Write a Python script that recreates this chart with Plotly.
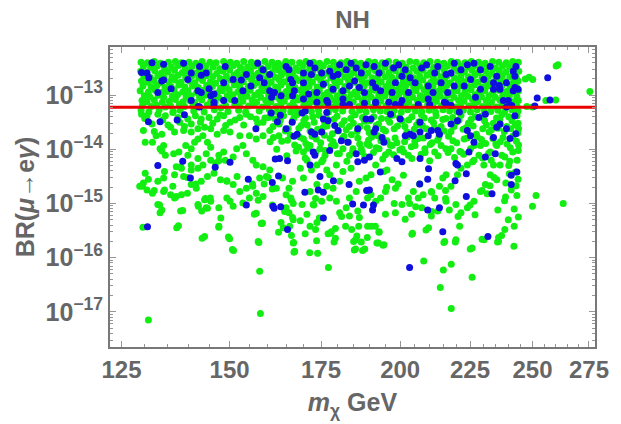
import math
import plotly.graph_objects as go

# Scan points: (m_chi in GeV, log10 BR(mu -> e gamma))
# green: all accepted points, blue: subset satisfying the extra constraint

green_band = [
    (129.2,-12.39),(130.6,-12.40),(132.1,-12.38),(133.5,-12.41),(135.3,-12.39),(136.9,-12.38),(138.3,-12.40),(140.1,-12.39),(141.7,-12.41),(143.2,-12.38),(145.1,-12.39),(146.6,-12.40),(148.5,-12.38),(150.2,-12.39),(151.8,-12.41),(153.6,-12.38),(155.6,-12.39),(157.2,-12.40),(159.2,-12.38),(161.1,-12.39),(162.8,-12.41),(164.9,-12.38),(166.6,-12.39),(168.8,-12.40),(170.6,-12.38),(172.8,-12.39),(174.6,-12.41),(176.8,-12.38),(178.7,-12.39),(181.0,-12.40),(182.9,-12.38),(185.2,-12.39),(187.2,-12.41),(189.6,-12.38),(191.6,-12.39),(194.0,-12.40),(196.1,-12.38),(198.6,-12.39),(200.7,-12.41),(203.3,-12.38),(205.5,-12.39),(208.1,-12.40),(210.3,-12.38),(213.0,-12.39),(215.3,-12.41),(218.0,-12.38),(220.3,-12.39),(223.1,-12.40),(225.5,-12.38),(228.3,-12.39),(230.8,-12.41),(233.7,-12.38),(236.2,-12.39),(239.2,-12.40),(241.8,-12.38),(244.1,-12.39),
    (129.7,-12.47),(131.3,-12.49),(132.8,-12.46),(134.4,-12.50),(136.0,-12.48),(137.6,-12.45),(139.2,-12.49),(140.8,-12.47),(142.5,-12.50),(144.1,-12.46),(145.9,-12.48),(147.5,-12.51),(149.3,-12.47),(151.0,-12.45),(152.8,-12.49),(154.6,-12.48),(156.4,-12.46),(158.2,-12.50),(160.1,-12.47),(161.9,-12.49),(163.8,-12.45),(165.7,-12.48),(167.7,-12.50),(169.7,-12.46),(171.7,-12.48),(173.7,-12.49),(175.7,-12.46),(177.8,-12.50),(179.8,-12.47),(182.0,-12.48),(184.0,-12.45),(186.2,-12.49),(188.4,-12.47),(190.6,-12.50),(192.8,-12.46),(195.0,-12.48),(197.3,-12.49),(199.6,-12.46),(202.0,-12.48),(204.4,-12.50),(206.8,-12.47),(209.2,-12.45),(211.6,-12.49),(214.1,-12.48),(216.6,-12.46),(219.1,-12.50),(221.7,-12.47),(224.3,-12.48),(226.9,-12.45),(229.5,-12.49),(232.2,-12.47),(234.9,-12.50),(237.7,-12.46),(240.5,-12.48),(243.3,-12.49),
    (129.1,-12.56),(130.4,-12.58),(132.2,-12.55),(133.7,-12.59),(135.1,-12.57),(136.7,-12.54),(138.5,-12.58),(139.9,-12.56),(141.8,-12.59),(143.4,-12.55),(144.9,-12.57),(146.8,-12.60),(148.3,-12.56),(150.0,-12.54),(152.0,-12.58),(153.8,-12.57),(155.4,-12.55),(157.4,-12.59),(159.0,-12.56),(161.2,-12.58),(163.0,-12.54),(164.7,-12.57),(166.8,-12.59),(168.6,-12.55),(170.8,-12.57),(172.6,-12.58),(174.8,-12.55),(176.6,-12.59),(178.9,-12.56),(180.8,-12.57),(183.1,-12.54),(185.0,-12.58),(187.4,-12.56),(189.4,-12.59),(191.8,-12.55),(193.8,-12.57),(196.3,-12.58),(198.4,-12.55),(200.9,-12.57),(203.1,-12.59),(205.7,-12.56),(207.9,-12.54),(210.5,-12.58),(212.8,-12.57),(215.5,-12.55),(217.8,-12.59),(220.5,-12.56),(222.9,-12.57),(225.7,-12.54),(228.1,-12.58),(231.0,-12.56),(233.5,-12.59),(236.4,-12.55),(239.0,-12.57),(242.0,-12.58),(244.3,-12.56),
    (129.8,-12.65),(131.2,-12.67),(132.9,-12.64),(134.3,-12.68),(136.1,-12.66),(137.5,-12.63),(139.3,-12.67),(140.7,-12.65),(142.4,-12.68),(144.2,-12.64),(145.8,-12.66),(147.6,-12.69),(149.2,-12.65),(151.1,-12.63),(152.7,-12.67),(154.7,-12.66),(156.3,-12.64),(158.3,-12.68),(160.0,-12.65),(162.0,-12.67),(163.7,-12.63),(165.8,-12.66),(167.6,-12.68),(169.8,-12.64),(171.6,-12.66),(173.8,-12.67),(175.6,-12.64),(177.9,-12.68),(179.7,-12.65),(182.1,-12.66),(183.9,-12.63),(186.3,-12.67),(188.3,-12.65),(190.7,-12.68),(192.7,-12.64),(195.1,-12.66),(197.2,-12.67),(199.7,-12.64),(201.9,-12.66),(204.5,-12.68),(206.7,-12.65),(209.3,-12.63),(211.5,-12.67),(214.2,-12.66),(216.5,-12.64),(219.2,-12.68),(221.6,-12.65),(224.4,-12.66),(226.8,-12.63),(229.6,-12.67),(232.1,-12.65),(235.0,-12.68),(237.6,-12.64),(240.6,-12.66),(243.2,-12.67),
    (129.3,-12.74),(130.7,-12.76),(132.0,-12.73),(133.5,-12.77),(135.4,-12.75),(136.8,-12.72),(138.2,-12.76),(140.2,-12.74),(141.5,-12.77),(143.3,-12.73),(145.2,-12.75),(146.5,-12.78),(148.6,-12.74),(150.1,-12.72),(151.9,-12.76),(153.5,-12.75),(155.7,-12.73),(157.1,-12.77),(159.3,-12.74),(160.9,-12.76),(163.1,-12.72),(164.6,-12.75),(166.9,-12.77),(168.5,-12.73),(170.9,-12.75),(172.5,-12.76),(174.9,-12.73),(176.5,-12.77),(179.0,-12.74),(180.7,-12.75),(183.2,-12.72),(184.9,-12.76),(187.5,-12.74),(189.3,-12.77),(191.9,-12.73),(193.7,-12.75),(196.4,-12.76),(198.3,-12.73),(201.0,-12.75),(203.0,-12.77),(205.8,-12.74),(207.8,-12.72),(210.6,-12.76),(212.7,-12.75),(215.6,-12.73),(217.7,-12.77),(220.6,-12.74),(222.8,-12.75),(225.8,-12.72),(228.0,-12.76),(231.1,-12.74),(233.4,-12.77),(236.5,-12.73),(238.9,-12.75),(242.1,-12.76),(244.0,-12.74),
    (129.6,-12.83),(131.4,-12.85),(132.7,-12.82),(134.5,-12.86),(135.9,-12.84),(137.7,-12.81),(139.1,-12.85),(140.9,-12.83),(142.3,-12.86),(144.3,-12.82),(145.7,-12.84),(147.7,-12.87),(149.1,-12.83),(151.2,-12.81),(152.6,-12.85),(154.8,-12.84),(156.2,-12.82),(158.4,-12.86),(159.9,-12.83),(162.1,-12.85),(163.6,-12.81),(165.9,-12.84),(167.5,-12.86),(169.9,-12.82),(171.5,-12.84),(173.9,-12.85),(175.5,-12.82),(178.0,-12.86),(179.6,-12.83),(182.2,-12.84),(183.8,-12.81),(186.4,-12.85),(188.2,-12.83),(190.8,-12.86),(192.6,-12.82),(195.2,-12.84),(197.1,-12.85),(199.8,-12.82),(201.8,-12.84),(204.6,-12.86),(206.6,-12.83),(209.4,-12.81),(211.4,-12.85),(214.3,-12.84),(216.4,-12.82),(219.3,-12.86),(221.5,-12.83),(224.5,-12.84),(226.7,-12.81),(229.7,-12.85),(232.0,-12.83),(235.1,-12.86),(237.5,-12.82),(240.7,-12.84),(243.4,-12.85),
    (129.0,-12.92),(130.8,-12.94),(132.3,-12.91),(133.8,-12.95),(135.0,-12.93),(136.6,-12.90),(138.6,-12.94),(139.8,-12.92),(141.9,-12.95),(143.5,-12.91),(144.8,-12.93),(146.9,-12.96),(148.2,-12.92),(149.9,-12.90),(152.1,-12.94),(153.9,-12.93),(155.3,-12.91),(157.5,-12.95),(158.9,-12.92),(161.3,-12.94),(162.7,-12.90),(165.0,-12.93),(166.5,-12.95),(168.9,-12.91),(170.5,-12.93),(172.9,-12.94),(174.5,-12.91),(176.9,-12.95),(178.6,-12.92),(181.1,-12.93),(182.8,-12.90),(185.3,-12.94),(187.1,-12.92),(189.7,-12.95),(191.5,-12.91),(194.1,-12.93),(196.0,-12.94),(198.7,-12.91),(200.6,-12.93),(203.4,-12.95),(205.4,-12.92),(208.2,-12.90),(210.2,-12.94),(213.1,-12.93),(215.2,-12.91),(218.1,-12.95),(220.2,-12.92),(223.2,-12.93),(225.4,-12.90),(228.4,-12.94),(230.7,-12.92),(233.8,-12.95),(236.1,-12.91),(239.3,-12.93),(241.7,-12.94),(244.2,-12.92),
    (129.9,-13.01),(131.1,-13.03),(133.0,-13.00),(134.2,-13.04),(136.2,-13.02),(137.4,-12.99),(139.4,-13.03),(140.6,-13.01),(142.6,-13.04),(144.0,-13.00),(146.0,-13.02),(147.4,-13.05),(149.4,-13.01),(150.9,-12.99),(152.9,-13.03),(154.5,-13.02),(156.5,-13.00),(158.1,-13.04),(160.2,-13.01),(161.8,-13.03),(163.9,-12.99),(165.6,-13.02),(167.8,-13.04),(169.6,-13.00),(171.8,-13.02),(173.6,-13.03),(175.8,-13.00),(177.7,-13.04),(179.9,-13.01),(181.9,-13.02),(184.1,-12.99),(186.1,-13.03),(188.5,-13.01),(190.5,-13.04),(192.9,-13.00),(194.9,-13.02),(197.4,-13.03),(199.5,-13.00),(202.1,-13.02),(204.3,-13.04),(206.9,-13.01),(209.1,-12.99),(211.7,-13.03),(214.0,-13.02),(216.7,-13.00),(219.0,-13.04),(221.8,-13.01),(224.2,-13.02),(227.0,-12.99),(229.4,-13.03),(232.3,-13.01),(234.8,-13.04),(237.8,-13.00),(240.4,-13.02),(243.5,-13.03),
    (129.4,-13.10),(130.5,-13.12),(132.1,-13.09),(133.9,-13.13),(135.5,-13.11),(136.9,-13.08),(138.7,-13.12),(140.3,-13.10),(141.4,-13.13),(143.1,-13.09),(145.3,-13.11),(146.4,-13.14),(148.7,-13.10),(150.3,-13.08),(151.7,-13.12),(153.4,-13.11),(155.8,-13.09),(157.0,-13.13),(159.4,-13.10),(160.8,-13.12),(163.2,-13.08),(164.5,-13.11),(167.0,-13.13),(168.4,-13.09),(171.0,-13.11),(172.4,-13.12),(175.0,-13.09),(176.4,-13.13),(179.1,-13.10),(180.6,-13.11),(183.3,-13.08),(184.8,-13.12),(187.6,-13.10),(189.2,-13.13),(192.0,-13.09),(193.6,-13.11),(196.5,-13.12),(198.2,-13.09),(201.1,-13.11),(202.9,-13.13),(205.9,-13.10),(207.7,-13.08),(210.7,-13.12),(212.6,-13.11),(215.7,-13.09),(217.6,-13.13),(220.7,-13.10),(222.7,-13.11),(225.9,-13.08),(227.9,-13.12),(231.2,-13.10),(233.3,-13.13),(236.6,-13.09),(238.8,-13.11),(242.2,-13.12),(244.1,-13.10),
    (129.5,-13.19),(131.5,-13.21),(132.6,-13.18),(134.6,-13.22),(135.8,-13.20),(137.8,-13.17),(139.0,-13.21),(141.0,-13.19),(142.2,-13.22),(144.4,-13.18),(145.6,-13.20),(147.8,-13.23),(149.0,-13.19),(151.3,-13.17),(152.5,-13.21),(154.9,-13.20),(156.1,-13.18),(158.5,-13.22),(159.8,-13.19),(162.2,-13.21),(163.5,-13.17),(166.0,-13.20),(167.4,-13.22),(170.0,-13.18),(171.4,-13.20),(174.0,-13.21),(175.4,-13.18),(178.1,-13.22),(179.5,-13.19),(182.3,-13.20),(183.7,-13.17),(186.5,-13.21),(188.1,-13.19),(190.9,-13.22),(192.5,-13.18),(195.3,-13.20),(197.0,-13.21),(199.9,-13.18),(201.7,-13.20),(204.7,-13.22),(206.5,-13.19),(209.5,-13.17),(211.3,-13.21),(214.4,-13.20),(216.3,-13.18),(219.4,-13.22),(221.4,-13.19),(224.6,-13.20),(226.6,-13.17),(229.8,-13.21),(231.9,-13.19),(235.2,-13.22),(237.4,-13.18),(240.8,-13.20),(243.6,-13.21),
    (129.2,-13.28),(130.9,-13.31),(133.2,-13.27),(136.4,-13.30),(138.0,-13.28),(141.2,-13.29),(143.7,-13.31),(146.2,-13.27),(149.6,-13.30),(152.3,-13.28),(154.1,-13.31),(157.7,-13.29),(160.4,-13.27),(162.4,-13.30),(164.2,-13.28),(166.3,-13.31),(168.1,-13.27),(170.3,-13.29),(172.2,-13.30),(174.3,-13.28),(177.2,-13.31),(179.3,-13.27),(181.5,-13.29),(184.4,-13.30),(186.8,-13.28),(188.8,-13.31),(191.2,-13.27),(193.4,-13.29),(195.6,-13.30),(198.0,-13.28),(200.4,-13.31),(202.6,-13.27),(205.2,-13.29),(207.4,-13.30),(210.0,-13.28),(212.3,-13.31),(215.0,-13.27),(217.4,-13.29),(220.0,-13.30),(222.5,-13.28),(225.2,-13.31),(227.7,-13.27),(230.5,-13.29),(233.0,-13.30),(235.8,-13.28),(238.5,-13.31),(241.4,-13.27),(244.0,-13.29),
]

green_mid = [
    (129.3,-13.35),(130.5,-13.38),(132.9,-13.35),(134.6,-13.38),(136.3,-13.32),(137.5,-13.41),(139.8,-13.44),(140.6,-13.53),(143.0,-13.44),(144.9,-13.41),(146.9,-13.44),(148.5,-13.38),(150.1,-13.50),(152.6,-13.41),(154.3,-13.35),(156.9,-13.44),(158.7,-13.50),(160.5,-13.65),(158.7,-13.75),(156.9,-13.81),(155.1,-13.75),(152.6,-13.75),(150.1,-13.68),(148.5,-13.65),(146.9,-13.72),(145.3,-13.62),(143.8,-13.59),(142.2,-13.62),(140.6,-13.68),(138.8,-13.65),(136.7,-13.68),(135.8,-13.59),(133.8,-13.72),(132.5,-13.75),
    (130.0,-13.43),(131.6,-13.53),(134.0,-13.46),(135.2,-13.55),(137.9,-13.50),(139.0,-13.58),(141.6,-13.38),(142.8,-13.50),(145.8,-13.52),(147.6,-13.36),(149.0,-13.56),(151.4,-13.46),(153.6,-13.55),(155.4,-13.40),(157.3,-13.52),(159.2,-13.42),
    (160.8,-13.35),(162.0,-13.44),(163.1,-13.53),(164.3,-13.38),(165.6,-13.62),(166.8,-13.47),(168.0,-13.36),(169.3,-13.56),(170.5,-13.42),(171.8,-13.66),(173.0,-13.50),(174.4,-13.37),(175.7,-13.59),(177.0,-13.45),(178.4,-13.71),(179.8,-13.39),(181.2,-13.54),(182.6,-13.64),(184.0,-13.43),(185.4,-13.36),(186.9,-13.58),(188.3,-13.48),(189.8,-13.69),(191.3,-13.40),(192.8,-13.53),(194.3,-13.63),(195.9,-13.44),(197.5,-13.37),(199.1,-13.57),(200.7,-13.47),(202.3,-13.68),(204.0,-13.40),(205.6,-13.55),(207.3,-13.36),(209.0,-13.62),(210.8,-13.46),(212.5,-13.38),(214.3,-13.58),(216.1,-13.43),(217.9,-13.67),(219.8,-13.50),(221.6,-13.37),(223.5,-13.60),(225.4,-13.45),(227.4,-13.72),(229.3,-13.39),(231.3,-13.55),(233.3,-13.64),(235.3,-13.42),(237.4,-13.36),(239.4,-13.58),(241.5,-13.47),(243.6,-13.38),(244.2,-13.62),(244.0,-13.52),
    (160.2,-13.41),(163.4,-13.46),(167.2,-13.42),(170.0,-13.47),(172.6,-13.40),(176.0,-13.48),(178.9,-13.44),(182.0,-13.47),(184.8,-13.52),(187.7,-13.41),(190.0,-13.47),(193.8,-13.43),(196.5,-13.50),(199.8,-13.41),(202.9,-13.46),(206.4,-13.49),(208.3,-13.42),(211.6,-13.51),(214.9,-13.45),(218.5,-13.41),(220.9,-13.46),(224.4,-13.52),(227.0,-13.40),(230.6,-13.47),(234.0,-13.52),(236.6,-13.45),(240.2,-13.40),(242.8,-13.55),
    (161.4,-13.58),(164.8,-13.66),(168.6,-13.61),(171.0,-13.55),(174.0,-13.63),(176.8,-13.57),(180.2,-13.66),(183.6,-13.58),(186.0,-13.67),(189.2,-13.60),(192.1,-13.56),(195.1,-13.66),(198.0,-13.62),(201.6,-13.58),(204.8,-13.63),(207.6,-13.56),(211.9,-13.60),(215.4,-13.66),(219.0,-13.58),(222.4,-13.63),(226.2,-13.57),(229.9,-13.62),(232.4,-13.68),(236.0,-13.61),(238.4,-13.67),(241.0,-13.62),(243.9,-13.70),
    (161.5,-13.78),(163.8,-13.85),(166.2,-13.74),(167.4,-13.92),(169.9,-13.81),(171.1,-13.98),(172.4,-13.76),(174.9,-13.88),(176.3,-14.02),(177.7,-13.80),(179.2,-13.93),(180.5,-14.08),(181.9,-13.76),(183.3,-13.87),(184.7,-13.99),(186.2,-13.79),(187.6,-14.05),(189.1,-13.90),(190.6,-13.77),(192.1,-13.97),(193.6,-13.84),(195.1,-14.10),(196.7,-13.92),(198.3,-13.79),(199.9,-14.01),(201.5,-13.86),(203.8,-13.95),(206.2,-13.80),(208.6,-14.06),(211.0,-13.88),(213.5,-13.77),(216.0,-13.99),(218.6,-13.84),(221.2,-14.04),(223.9,-13.79),(226.6,-13.93),(229.4,-13.82),(232.2,-14.07),(235.0,-13.90),(237.9,-13.78),(240.8,-13.97),(243.3,-13.85),(244.1,-14.02),
    (160.6,-13.86),(163.0,-13.75),(165.4,-13.83),(168.8,-13.77),(170.6,-13.89),(173.6,-13.81),(176.0,-13.74),(178.6,-13.86),(181.4,-13.80),(184.2,-13.73),(186.8,-13.90),(189.6,-13.83),(192.6,-13.75),(195.6,-13.84),(198.9,-13.88),(202.4,-13.77),(205.0,-13.85),(208.0,-13.79),(210.4,-13.91),(213.0,-13.83),(217.0,-13.76),(220.0,-13.88),(222.8,-13.81),(227.8,-13.77),(231.0,-13.89),(233.8,-13.80),(236.8,-13.86),(241.8,-13.76),(244.2,-13.92),
    (162.4,-14.00),(165.2,-14.12),(167.8,-14.03),(170.4,-14.16),(173.4,-14.06),(175.6,-14.19),(179.9,-14.08),(182.8,-14.22),(184.6,-14.04),(188.4,-14.13),(191.2,-14.06),(194.2,-14.18),(197.8,-14.10),(201.2,-14.05),(204.0,-14.17),(207.2,-14.09),(210.2,-14.21),(213.2,-14.12),(216.8,-14.06),(219.2,-14.15),(222.6,-14.09),(226.0,-14.23),(229.8,-14.16),(233.2,-14.20),(238.6,-14.14),(240.6,-14.22),
    (168.5,-13.96),(169.9,-14.05),(171.8,-13.93),(174.7,-13.99),(176.2,-14.11),(178.1,-13.93),(181.6,-13.99),(183.6,-14.11),(187.3,-13.99),(189.9,-13.93),(193.0,-13.99),(196.2,-14.05),(197.3,-13.93),(200.6,-13.99),(202.8,-14.11),(205.1,-13.93),(208.5,-13.99),(212.0,-14.05),(214.3,-13.93),(217.9,-13.99),(221.6,-14.05),(225.2,-13.99),(229.0,-13.93),(232.8,-14.05),(235.4,-13.93),(237.4,-14.11),
    (239.5,-13.90),(241.8,-14.05),(243.6,-14.20),(240.2,-14.30),(242.9,-14.42),(244.0,-14.55),(239.0,-14.62),(241.2,-14.75),(243.5,-14.85),(238.5,-14.95),(242.4,-15.10),(244.1,-15.25),(240.0,-15.30),
]

green_low = [
    (129.7,-13.65),(132.1,-13.67),(130.1,-13.87),(131.7,-13.87),(134.2,-13.93),(133.4,-13.99),(136.5,-14.08),(137.7,-14.05),(139.3,-13.93),(140.6,-13.99),(139.8,-14.11),(141.4,-13.87),(142.2,-13.81),(143.4,-13.75),(144.5,-13.87),(145.3,-13.96),(144.2,-14.08),(142.2,-14.17),(140.6,-14.29),(138.3,-14.35),(137.1,-14.32),(136.7,-14.47),(138.8,-14.50),(140.6,-14.38),(142.2,-14.35),(143.4,-14.29),(145.3,-14.20),(147.3,-14.11),(148.5,-14.05),(148.9,-14.20),(150.9,-14.14),(151.8,-13.99),(153.4,-13.93),(154.3,-14.08),(156.0,-14.20),(156.9,-14.29),(158.7,-14.32),(160.5,-14.38),(159.6,-14.50),(157.8,-14.53),(156.0,-14.68),(154.3,-14.72),(152.6,-14.78),(150.9,-14.65),(149.3,-14.59),(147.7,-14.56),(146.1,-14.44),(144.5,-14.50),(143.0,-14.59),(141.8,-14.72),(140.6,-14.65),(139.7,-14.81),(138.3,-14.84),(136.7,-14.90),(135.8,-14.84),(134.2,-14.53),(132.9,-14.59),(130.1,-14.44),(129.7,-14.62),(128.9,-14.68),(130.5,-14.75),(131.7,-14.81),(134.2,-14.78),(136.3,-14.68),(132.9,-15.02),(133.4,-15.17),(138.1,-15.14),(142.2,-15.02),(143.8,-14.93),(145.3,-14.96),(144.2,-15.08),(147.3,-15.08),(149.3,-14.90),(150.1,-14.96),(150.9,-15.05),(153.4,-14.99),(155.1,-14.90),(156.9,-14.81),(158.7,-14.87),(162.3,-14.72),(165.0,-14.84),(165.8,-14.72),(166.8,-14.59),(164.0,-14.53),(166.3,-14.90),(165.0,-15.08),(165.8,-15.17),(158.2,-15.37),(156.4,-15.20),(163.6,-15.35),(166.8,-15.26),
    (169.0,-14.35),(169.9,-14.53),(170.9,-14.20),(172.2,-14.38),(173.8,-14.29),(175.2,-14.23),(176.7,-14.38),(177.6,-14.47),(179.6,-14.29),(181.6,-14.41),(184.1,-14.35),(180.6,-14.59),(178.6,-14.72),(176.7,-14.68),(173.8,-14.65),(171.8,-14.78),(169.5,-15.02),(172.7,-15.02),(175.2,-14.96),(177.6,-14.90),(179.6,-14.96),(180.6,-15.17),(182.6,-15.08),(183.6,-14.90),(185.7,-14.78),(186.7,-14.59),(188.8,-14.53),(190.4,-14.47),(191.9,-14.29),(194.6,-14.41),(195.6,-14.38),(197.3,-14.56),(198.4,-14.72),(195.1,-14.78),(193.5,-14.90),(191.9,-14.96),(190.4,-14.84),(189.3,-14.90),(186.2,-15.14),(183.6,-15.23),(186.7,-15.26),(195.1,-15.20),(198.4,-15.17),(200.6,-15.02),(202.8,-14.90),(204.5,-14.78),(206.2,-14.90),(207.9,-14.84),(210.8,-14.78),(212.0,-14.90),(213.7,-14.68),(214.9,-14.53),(216.1,-14.47),(217.9,-14.68),(220.3,-14.47),(221.6,-14.35),(224.0,-14.29),(226.5,-14.20),(228.4,-14.11),(230.3,-14.29),(232.8,-14.47),(235.4,-14.56),(236.7,-14.29),(234.1,-14.29),(230.9,-14.65),(229.0,-14.78),(226.5,-14.96),(224.0,-15.08),(221.6,-15.17),(219.7,-15.02),(216.1,-14.96),(213.1,-15.14),(210.8,-15.23),(207.4,-15.08),(203.9,-15.20),(201.7,-15.29),(170.9,-15.20),(169.0,-15.32),(173.8,-15.35),
]

green_tail = [
    (129.5,-14.68),(132.1,-14.76),(130.8,-14.55),(129.6,-15.44),(130.8,-17.15),(133.3,-15.03),(133.8,-15.12),(134.4,-14.75),(134.4,-14.41),(133.8,-14.03),(134.6,-14.11),(137.6,-15.41),(138.6,-15.13),(137.1,-14.87),(138.1,-14.32),(139.7,-14.52),(141.7,-14.64),(142.3,-15.05),(143.1,-15.14),(143.8,-15.61),(144.0,-14.91),(144.5,-15.09),(145.2,-14.90),(146.5,-14.25),(147.3,-14.21),(147.8,-15.27),(147.3,-15.42),(149.3,-14.58),(149.7,-15.62),(150.7,-15.85),(151.9,-14.50),(155.9,-14.64),(156.9,-15.18),(157.4,-15.70),(157.8,-16.25),(158.0,-17.03),(157.4,-14.94),(158.5,-15.36),(159.0,-14.64),(160.1,-14.52),(161.2,-15.03),(161.2,-14.73),(164.6,-15.15),(164.2,-15.45),(166.0,-15.42),(167.0,-15.73),(167.4,-15.88),(167.0,-15.30),(166.5,-14.94),(167.0,-15.00),(171.7,-15.91),(171.8,-15.42),(172.9,-15.03),(173.4,-14.91),(174.5,-15.27),(177.2,-16.18),(178.1,-15.52),(177.8,-15.55),(179.3,-15.64),(181.2,-15.24),(182.4,-15.42),(185.5,-15.67),(185.5,-15.84),(186.5,-15.42),(188.4,-15.84),(189.3,-15.42),(190.5,-15.42),(191.8,-15.42),(193.0,-15.52),(192.8,-15.73),(194.6,-15.76),(195.5,-14.70),(198.0,-15.00),(199.3,-14.64),(201.1,-14.48),(203.2,-15.00),(204.2,-15.55),(205.3,-15.06),(206.7,-14.64),(208.1,-16.06),(209.8,-15.45),(210.9,-15.15),(210.9,-14.79),(214.0,-16.55),(215.1,-16.23),(215.6,-15.70),(215.9,-14.91),(215.9,-14.76),(218.0,-16.94),(218.0,-16.12),(217.3,-15.12),(219.7,-15.67),(220.5,-15.24),(221.1,-15.42),(225.0,-15.03),(225.8,-16.36),(225.8,-15.82),(226.9,-15.21),(229.6,-14.76),(230.4,-15.67),(231.6,-14.82),(232.7,-14.67),(234.3,-14.52),(235.8,-15.12),(236.1,-15.70),(237.3,-15.59),(238.6,-15.48),(238.9,-14.88),(240.4,-14.45),(242.3,-15.79),(242.4,-15.42),(243.2,-14.67),
    (137.2,-15.45),(143.2,-15.64),(147.3,-15.44),(150.0,-15.65),(151.0,-15.87),(157.6,-15.72),(158.5,-15.37),(162.9,-15.53),(166.5,-15.59),(167.1,-15.72),(167.2,-15.90),(170.4,-15.56),(173.4,-15.48),(173.7,-15.69),(174.0,-15.92),(177.1,-15.56),(179.3,-15.46),(178.9,-15.71),(184.3,-15.48),(185.9,-15.60),(184.9,-15.70),(185.1,-15.86),(187.3,-15.71),(187.7,-15.87),(189.2,-15.63),(192.3,-15.73),(193.0,-15.53),(194.3,-15.77),(204.0,-15.57),(208.9,-15.49),(215.3,-15.72),(219.5,-15.71),(225.1,-15.84),(229.6,-15.66),(235.7,-15.71),(236.1,-15.63),
    (250.0,-15.05),(251.5,-14.85),(263.3,-15.00),
]

green_out = [
    (247.0,-12.70),(248.6,-12.67),(250.1,-12.71),(261.0,-12.44),(260.2,-12.46),(260.0,-13.09),(255.7,-13.10),(247.6,-13.21),(250.0,-13.22),(275.4,-12.93),
]

blue_band = [
    (131.6,-12.40),(129.3,-12.58),(130.5,-12.59),(134.2,-12.43),(130.9,-12.68),(133.8,-12.74),(134.2,-12.72),(132.9,-12.95),(135.9,-12.88),(138.8,-12.41),(140.6,-12.59),(139.8,-12.71),(142.6,-12.47),(143.0,-12.63),(144.2,-12.59),(144.9,-12.88),(142.2,-12.92),(143.0,-12.95),(145.3,-13.01),(146.1,-12.98),(148.9,-12.47),(148.5,-12.77),(150.9,-12.71),(153.0,-12.72),(154.3,-12.62),(155.5,-12.83),(157.3,-12.41),(158.7,-12.53),(157.8,-12.68),(159.0,-12.77),(160.5,-12.62),(160.5,-12.92),(161.8,-12.95),(161.0,-13.04),(163.6,-13.01),(165.0,-12.47),(165.8,-12.53),(166.3,-12.71),(166.8,-12.77),(167.3,-12.92),(166.8,-13.01),(153.4,-12.92),(151.3,-13.10),(148.5,-13.10),(140.6,-13.10),(142.6,-13.22),(146.1,-13.13),
    (171.8,-12.41),(173.2,-12.50),(169.9,-12.59),(172.2,-12.62),(175.2,-12.59),(177.6,-12.56),(180.6,-12.44),(178.6,-12.65),(180.1,-12.62),(182.6,-12.53),(184.1,-12.41),(185.7,-12.50),(187.3,-12.59),(185.2,-12.74),(183.6,-12.83),(181.6,-12.92),(178.6,-12.89),(175.7,-12.80),(173.8,-12.95),(171.4,-12.98),(169.9,-12.77),(188.8,-12.44),(191.4,-12.47),(193.0,-12.59),(195.1,-12.41),(190.9,-12.77),(191.9,-12.86),(193.5,-12.92),(188.3,-12.95),(186.7,-12.86),(197.8,-12.50),(199.5,-12.44),(201.7,-12.53),(200.6,-12.65),(203.4,-12.68),(205.1,-12.77),(198.4,-12.77),(197.3,-12.95),(202.8,-12.95),(200.6,-13.10),(207.4,-12.50),(209.1,-12.44),(212.0,-12.59),(213.1,-12.47),(216.1,-12.62),(217.9,-12.59),(209.7,-12.83),(211.4,-12.95),(214.3,-12.77),(216.7,-12.95),(219.1,-12.83),(219.1,-12.41),(221.6,-12.53),(224.0,-12.44),(226.5,-12.41),(229.0,-12.53),(225.2,-12.71),(222.8,-12.83),(229.0,-12.89),(227.1,-13.04),(232.8,-12.47),(235.4,-12.65),(234.1,-12.77),(236.7,-12.89),(230.3,-12.71),(209.7,-13.07),(215.5,-13.13),(196.2,-13.13),(191.9,-13.13),(181.6,-13.07),(176.7,-13.10),(169.9,-13.07),(173.8,-13.13),
    (239.3,-12.77),(242.0,-12.56),(243.1,-12.47),(242.7,-12.65),(242.7,-12.86),(242.0,-12.92),(240.0,-13.10),(238.0,-13.10),(239.3,-13.22),(244.0,-12.89),(241.4,-13.19),(236.4,-12.82),(234.1,-12.89),
]

blue_mid = [
    (130.8,-13.49),(133.4,-13.49),(137.3,-13.46),(139.0,-13.36),(142.3,-13.21),(146.1,-13.19),(160.9,-13.33),(163.4,-13.37),(162.6,-13.49),(165.0,-13.62),(166.7,-13.50),(167.2,-13.76),(156.8,-13.62),(162.9,-14.49),(162.0,-14.18),(163.2,-14.17),(165.4,-14.21),
    (177.1,-13.14),(181.6,-13.17),(183.6,-13.17),(188.3,-13.15),(191.9,-13.14),(198.4,-13.17),(200.0,-13.17),(206.2,-13.17),(210.2,-13.17),(216.1,-13.15),(217.9,-13.19),(169.5,-13.33),(170.4,-13.29),(176.7,-13.32),(175.7,-13.44),(177.1,-13.47),(188.8,-13.44),(190.4,-13.44),(191.9,-13.62),(196.8,-13.35),(200.0,-13.44),(206.8,-13.50),(210.8,-13.65),(213.7,-13.72),(217.9,-13.53),(220.3,-13.47),(221.0,-13.31),(224.0,-13.65),(225.2,-13.75),(226.5,-13.87),(230.9,-13.35),(228.4,-13.41),(234.1,-13.78),(235.4,-13.59),(168.1,-13.72),(172.2,-13.68),(173.2,-13.72),(175.2,-13.68),(179.1,-13.56),(180.1,-13.65),(181.1,-13.84),(183.1,-13.87),(186.2,-13.62),(191.4,-13.68),(194.0,-13.78),(194.6,-13.87),(201.7,-13.75),(203.4,-13.72),(204.5,-13.75),(206.8,-13.68),(209.7,-13.75),(213.1,-13.65),
    (172.7,-14.05),(173.2,-14.11),(171.8,-14.29),(177.6,-14.02),(185.7,-14.08),(186.2,-14.23),(188.3,-14.20),(189.9,-14.14),(198.9,-14.17),(200.6,-14.23),(206.8,-14.17),(219.7,-14.26),(220.3,-14.29),(224.6,-14.05),(234.8,-14.08),(230.9,-14.14),(174.7,-14.50),(213.7,-15.08),
    (242.7,-13.38),(243.1,-13.71),(240.7,-13.80),(239.3,-13.62),(236.7,-13.53),
]

blue_low = [
    (130.6,-15.43),(132.9,-14.30),(138.6,-14.22),(140.4,-14.53),(146.4,-14.33),(150.1,-14.24),(154.3,-15.03),(154.8,-14.55),(161.2,-14.61),(161.4,-15.05),(161.7,-15.09),(163.5,-15.06),(165.4,-15.48),(170.3,-14.79),(175.7,-15.27),(174.2,-14.75),(175.7,-14.79),(178.7,-14.58),(183.5,-14.65),(184.6,-15.01),(188.0,-15.03),(189.0,-14.76),(189.9,-14.75),(190.9,-15.12),(191.2,-15.03),(193.4,-14.42),(203.2,-16.18),(206.7,-14.64),(209.5,-15.12),(209.5,-14.55),(209.8,-14.36),(214.9,-15.52),(219.4,-14.58),(223.6,-14.87),(223.6,-14.45),(231.9,-15.61),(233.5,-14.82),(241.2,-14.65),(241.2,-14.48),(243.5,-14.42),
]

blue_out = [
    (256.5,-12.68),(252.0,-13.05),(257.5,-13.09),(251.0,-13.20),
]

meg_ii_limit = 6e-14          # horizontal reference line
x_ticks = [125, 150, 175, 200, 225, 250, 275]
x_minor = [130, 135, 140, 145, 155, 160, 165, 170, 180, 185, 190, 195,
           205, 210, 215, 220, 230, 235, 240, 245, 255, 260, 265, 270]
y_exponents = [-17, -16, -15, -14, -13]
x_range_gev = (122.6, 277.8)
y_range_log = (-17.65, -12.11)

GREEN = "rgb(18,238,18)"
BLUE = "rgb(14,14,222)"
GRAY = "rgb(102,102,102)"
FONT = "Liberation Sans"
MARKER = 7


def split(points):
    xs = [p[0] for p in points]
    ys = [10 ** p[1] for p in points]
    return xs, ys


green = green_band + green_mid + green_low + green_tail + green_out
blue = blue_band + blue_mid + blue_low + blue_out
gx, gy = split(green)
bx, by = split(blue)

fig = go.Figure()
fig.add_trace(go.Scatter(x=gx, y=gy, mode="markers",
                         marker=dict(color=GREEN, size=MARKER, line=dict(width=0)),
                         showlegend=False, hoverinfo="skip"))
fig.add_trace(go.Scatter(x=bx, y=by, mode="markers",
                         marker=dict(color=BLUE, size=MARKER, line=dict(width=0)),
                         showlegend=False, hoverinfo="skip"))
fig.add_trace(go.Scatter(x=list(x_range_gev), y=[meg_ii_limit, meg_ii_limit],
                         mode="lines", line=dict(color="rgb(235,0,0)", width=3),
                         showlegend=False, hoverinfo="skip"))

y_minor = [m * 10.0 ** e for e in range(-18, -11) for m in range(2, 10)]
y_minor = [v for v in y_minor if 10 ** y_range_log[0] <= v <= 10 ** y_range_log[1]]

fig.update_layout(
    width=621, height=424,
    margin=dict(l=110, r=15, t=47, b=72),
    paper_bgcolor="white", plot_bgcolor="white",
    font=dict(family=FONT, color=GRAY),
    title=dict(text="NH", x=0.5, xref="paper", xanchor="center",
               y=1 - 20 / 424, yref="container", yanchor="middle",
               font=dict(family=FONT, size=24, color=GRAY, weight="bold")),
    xaxis=dict(
        type="log",
        range=[math.log10(x_range_gev[0]), math.log10(x_range_gev[1])],
        tickmode="array", tickvals=x_ticks, ticktext=[str(t) for t in x_ticks],
        tickfont=dict(family=FONT, size=24, color=GRAY, weight="bold"),
        ticks="inside", ticklen=6, tickwidth=1, tickcolor="rgb(150,150,150)",
        minor=dict(tickmode="array", tickvals=x_minor, ticks="inside", ticklen=3,
                   tickcolor="rgb(150,150,150)", showgrid=False),
        showline=True, linecolor="rgb(120,120,120)", linewidth=2, mirror="allticks",
        showgrid=False, zeroline=False,
        title=dict(text="<i>m</i><sub>χ</sub> GeV", standoff=12,
                   font=dict(family=FONT, size=25, color=GRAY, weight="bold")),
    ),
    yaxis=dict(
        type="log",
        range=list(y_range_log),
        tickmode="array", tickvals=[10.0 ** e for e in y_exponents],
        ticktext=["10<sup>\u2212%d</sup>" % -e for e in y_exponents],
        tickfont=dict(family=FONT, size=25, color=GRAY, weight="bold"),
        ticks="inside", ticklen=6, tickwidth=1, tickcolor="rgb(150,150,150)",
        minor=dict(tickmode="array", tickvals=y_minor, ticks="inside", ticklen=3,
                   tickcolor="rgb(150,150,150)", showgrid=False),
        showline=True, linecolor="rgb(120,120,120)", linewidth=2, mirror="allticks",
        showgrid=False, zeroline=False,
        title=dict(text="BR(<i>μ</i>→e<i>γ</i>)", standoff=4,
                   font=dict(family=FONT, size=25, color=GRAY, weight="bold")),
    ),
)

fig.write_html("out.html")
